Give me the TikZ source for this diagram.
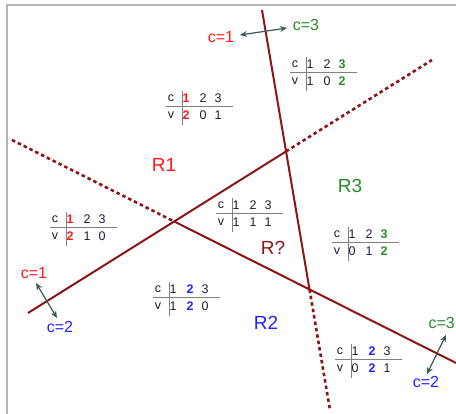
\documentclass[tikz,border=0pt]{standalone}
\usepackage{fontspec}
\setmainfont{Liberation Sans}
\usetikzlibrary{arrows.meta}
\definecolor{lred}{HTML}{8B1518}
\definecolor{cred}{HTML}{FF1A1A}
\definecolor{cblue}{HTML}{2323FF}
\definecolor{cgreen}{HTML}{2A8C2A}
\definecolor{ink}{HTML}{1C1C38}
\definecolor{arr}{HTML}{3B5A56}
\definecolor{frame}{HTML}{B4B4B4}
\tikzset{
  sline/.style={lred, line width=2pt},
  dline/.style={lred, line width=2.6pt, dash pattern=on 3.5pt off 3pt},
  tab/.style={inner sep=0pt, text=ink, font=\fontsize{12.5}{13}\selectfont},
  tabrule/.style={draw=gray, line width=0.9pt},
  reg/.style={inner sep=0pt, font=\fontsize{19}{20}\selectfont},
  clab/.style={inner sep=0pt, font=\fontsize{16}{17}\selectfont},
  dbl/.style={arr, line width=1.2pt, {Stealth[length=7pt,width=6pt]}-{Stealth[length=7pt,width=6pt]}},
}
\newcommand{\cvt}[8]{%
  \begin{scope}[shift={#2}]
    \draw[tabrule] (-16,0) -- (51,0);
    \draw[tabrule] (0,-15) -- (0,19);
    \node[tab] (#1c) at (-11,-8) {c};
    \node[tab] (#1a) at (4,-8) {#3};
    \node[tab] (#1b) at (21,-8) {#4};
    \node[tab] (#1d) at (36,-8) {#5};
    \node[tab] (#1v) at (-11,9) {v};
    \node[tab] (#1e) at (4,9) {#6};
    \node[tab] (#1f) at (21,9) {#7};
    \node[tab] (#1g) at (36,9) {#8};
  \end{scope}}
\newcommand{\R}[1]{\textcolor{cred}{\bfseries #1}}
\newcommand{\B}[1]{\textcolor{cblue}{\bfseries #1}}
\newcommand{\G}[1]{\textcolor{cgreen}{\bfseries #1}}
\begin{document}
\begin{tikzpicture}[x=1pt,y=-1pt]
\useasboundingbox (0,0) rectangle (456,414);
\fill[white] (0,0) rectangle (456,414);
\draw[frame, line width=1.5pt] (7,414) -- (7,5) -- (456,5);
% line endpoints
\coordinate (At) at (262,10);
\coordinate (Ab) at (330,410);
\coordinate (Bl) at (28,313);
\coordinate (Br) at (432,60);
\coordinate (Cl) at (12,140);
\coordinate (Cr) at (456,363);
\coordinate (P1) at (intersection of Bl--Br and Cl--Cr);
\coordinate (P2) at (intersection of Bl--Br and At--Ab);
\coordinate (P3) at (intersection of Cl--Cr and At--Ab);
\draw[dline] (P3) -- (Ab);
\draw[dline] (P2) -- (Br);
\draw[dline] (Cl) -- (P1);
\draw[sline] (At) -- (P3);
\draw[sline] (Bl) -- (P2);
\draw[sline] (P1) -- (Cr);
% tables
\cvt{t1}{(182,106)}{\R{1}}{2}{3}{\R{2}}{0}{1}
\cvt{t2}{(306,72)}{1}{2}{\G{3}}{1}{0}{\G{2}}
\cvt{t3}{(66,227)}{\R{1}}{2}{3}{\R{2}}{1}{0}
\cvt{t4}{(232,213)}{1}{2}{3}{1}{1}{1}
\cvt{t5}{(348,242)}{1}{2}{\G{3}}{0}{1}{\G{2}}
\cvt{t6}{(169,297)}{1}{\B{2}}{3}{1}{\B{2}}{0}
\cvt{t7}{(351,359)}{1}{\B{2}}{3}{0}{\B{2}}{1}
% region labels
\node[reg, text=cred] (r1) at (164,165) {R1};
\node[reg, text=cgreen] (r3) at (350,186) {R3};
\node[reg, text=cblue] (r2) at (266,323) {R2};
\node[reg, text=lred] (rq) at (273,248) {R?};
% c labels and arrows
\node[clab, text=cred] (c1top) at (221,37) {c=1};
\node[clab, text=cgreen] (c3top) at (306,25) {c=3};
\node[clab, text=cred] (c1left) at (34,273) {c=1};
\node[clab, text=cblue] (c2left) at (60,327) {c=2};
\node[clab, text=cgreen, anchor=east] (c3right) at (455,323) {c=3};
\node[clab, text=cblue] (c2right) at (426,382) {c=2};
\coordinate (a1) at (240,35);
\coordinate (a2) at (287,28);
\coordinate (b1) at (36,283);
\coordinate (b2) at (57,318);
\coordinate (d1) at (446,335);
\coordinate (d2) at (427,374);
\draw[dbl] (a1) -- (a2);
\draw[dbl] (b1) -- (b2);
\draw[dbl] (d1) -- (d2);
\end{tikzpicture}
\end{document}
